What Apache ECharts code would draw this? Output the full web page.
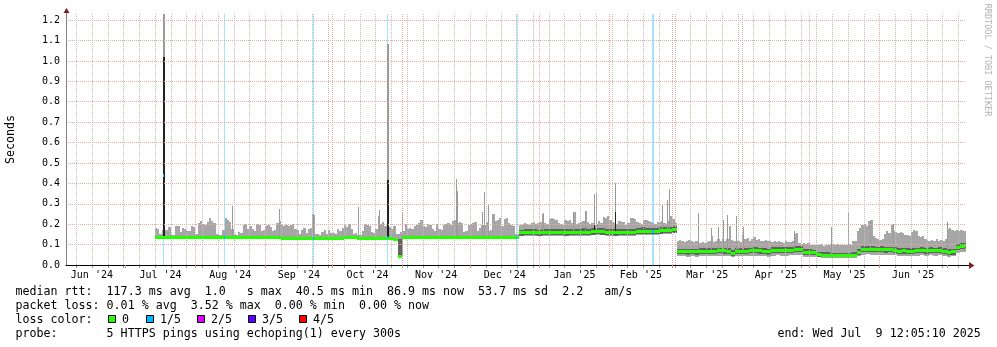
<!DOCTYPE html>
<html>
<head>
<meta charset="utf-8">
<script src="https://cdn.jsdelivr.net/npm/echarts@6/dist/echarts.min.js"></script>
<style>
  html, body { margin: 0; padding: 0; background: #fff; }
  #chart { width: 997px; height: 347px; }
</style>
</head>
<body>
<div id="chart"></div>
<script>
// ---- time frame of the graph (last 400 days) ----
const viewStart = '2024-06-04 12:05:10';
const viewEnd = '2025-07-09 12:05:10';
const firstBucket = '2024-07-14 00:00:00';
const bucketDays = 2;

// ---- sorted pings per 2-day bucket, in ms: min, 2nd, median, 4th ----
const pingMin = [
  134,134,133,134,134,133,134,134,133,134,
  134,133,134,134,133,134,134,133,134,133,
  133,133,132,133,133,132,131,131,129,129,
  129,128,128,128,129,128,128,129,128,129,
  129,129,130,131,133,126,125,128,129,129,
  129,129,125,124,40,130,131,131,131,131,
  131,130,131,131,132,131,131,130,131,131,
  131,131,132,132,133,133,133,133,133,133,133,
  140,141,141,142,140,141,143,142,141,143,
  140,141,143,143,144,143,145,146,145,144,
  141,140,141,141,142,141,148,149,147,149,
  148,150,151,153,155,
  42,42,41,42,41,
  43,43,42,44,45,44,
  42,38,42,44,43,
  45,46,44,42,41,
  46,47,46,46,47,
  50,49,41,40,39,
  37,36,36,35,35,35,35,35,36,
  42,50,52,51,
  50,51,49,50,48,
  45,46,44,45,
  46,48,45,47,46,48,45,
  41,42,58,62,64
];
const pingLow = [
  135,135,134,135,135,134,135,135,134,135,
  135,134,135,135,134,135,135,134,135,134,
  134,134,133,134,134,133,132,132,130,130,
  130,129,129,129,130,129,129,130,129,130,
  130,130,131,132,134,127,126,129,130,130,
  130,130,126,125,42,131,132,132,132,132,
  132,131,132,132,133,132,132,131,132,132,
  132,132,133,133,134,134,134,134,134,134,134,
  144,145,145,146,144,145,147,146,145,147,
  144,145,147,147,148,147,149,150,149,148,
  145,144,145,145,146,145,152,153,151,153,
  152,154,155,157,159,
  52,52,51,52,51,
  53,54,53,55,57,56,
  53,45,53,55,54,
  57,58,56,53,51,
  58,59,59,58,60,
  65,64,50,49,47,
  39,38,38,37,37,37,37,37,38,
  49,63,65,64,
  62,63,61,62,59,
  55,56,54,55,
  57,59,56,58,57,59,55,
  49,51,75,79,82
];
const pingMed = [
  137,137,136,137,137,136,137,137,136,137,
  137,136,137,137,136,137,137,136,137,136,
  136,136,135,136,136,135,134,134,132,132,
  132,131,131,131,132,131,131,132,131,132,
  132,132,133,134,136,129,128,131,132,132,
  132,132,128,127,44,133,134,134,134,134,
  134,133,134,134,135,134,134,133,134,134,
  134,134,135,135,136,136,136,136,136,136,136,
  157,158,158,159,157,158,160,159,158,160,
  157,158,160,160,161,160,162,163,162,161,
  158,157,158,158,159,158,165,166,164,166,
  165,167,168,170,172,
  65,65,64,65,64,
  66,67,66,68,70,69,
  66,58,66,68,67,
  70,71,69,66,64,
  71,72,72,71,73,
  78,77,63,62,60,
  50,48,47,46,46,45,45,45,47,
  62,76,78,77,
  75,76,74,75,72,
  68,69,67,68,
  70,72,69,71,70,72,68,
  62,64,88,92,95
];
const pingHigh = [
  141,141,140,141,141,140,141,141,140,141,
  141,140,141,141,140,141,141,140,141,140,
  140,140,139,140,140,139,138,138,136,136,
  136,135,135,135,136,135,135,136,135,136,
  136,136,137,138,140,133,132,135,136,136,
  136,136,132,131,128,137,138,138,138,138,
  138,137,138,138,139,138,138,137,138,138,
  138,138,139,139,140,140,140,140,140,140,140,
  172,175,176,174,173,176,178,176,174,177,
  174,175,178,177,179,176,180,181,179,178,
  175,174,176,175,177,175,182,184,181,183,
  182,185,186,188,190,
  80,80,79,80,79,
  81,82,81,83,85,84,
  81,73,81,83,82,
  85,86,84,81,79,
  86,87,87,86,88,
  93,92,78,77,75,
  65,63,62,61,61,60,60,60,62,
  77,91,93,92,
  90,91,89,90,87,
  83,84,82,83,
  85,87,84,86,85,87,83,
  77,79,103,107,110
];

// ---- highest ping of every day from 2024-07-14, in ms ----
const dailyMax = [
  180,175,150,170,170,172,185,145,145,190,
  190,160,182,178,168,165,190,188,150,205,
  215,200,195,210,230,215,205,150,145,148,
  170,230,222,210,175,150,148,160,155,195,
  200,175,190,175,165,200,198,165,172,190,
  195,185,168,172,205,215,200,190,195,190,
  195,200,175,170,150,172,180,155,178,180,
  245,150,150,148,160,172,150,170,155,155,
  150,175,165,180,195,185,200,
  175,150,155,148,148,165,200,195,190,160,
  155,175,240,200,210,190,200,185,175,190,
  150,150,160,165,200,175,180,178,190,195,
  205,220,190,185,200,195,175,165,200,178,
  172,198,200,205,195,215,220,205,210,208,
  162,165,198,200,205,210,165,180,195,195,
  210,165,170,250,215,220,228,192,225,228,
  208,195,192,150,150,
  195,200,205,200,198,205,210,200,205,210,
  250,205,200,225,230,225,220,205,200,195,
  220,215,220,205,258,200,205,212,215,265,
  210,200,205,195,200,215,205,235,230,238,
  220,210,205,200,215,210,212,195,205,228,
  230,225,210,205,200,220,222,215,210,205,
  200,210,212,215,205,200,215,240,225,205,
  118,122,120,115,118,124,116,112,120,118,
  110,112,108,114,118,140,115,120,125,118,
  132,118,125,190,122,118,116,120,115,150,
  125,130,120,128,135,122,126,120,118,122,
  116,120,114,118,112,116,115,110,118,114,
  112,116,150,155,110,105,108,104,110,100,
  98,100,96,98,102,95,99,97,100,105,
  98,102,96,100,97,99,104,100,118,120,
  165,180,195,200,190,215,220,140,130,125,
  122,128,150,168,155,198,165,160,158,162,
  155,145,148,142,160,170,165,140,138,142,
  125,120,118,122,120,125,118,122,120,125,
  178,182,172,168,170,165,172,168,165
];

// ---- single outlier pings (ms); spikeCore is the dark inner part, 0 = none ----
const spikeAt = [
  '2024-07-17 10:00','2024-08-17 12:00','2024-09-07 07:00','2024-09-22 12:00',
  '2024-10-12 12:00','2024-10-21 12:00','2024-10-25 05:00','2024-10-31 21:00',
  '2024-11-24 18:00','2024-11-25 06:00','2024-12-06 12:00','2024-12-07 12:00',
  '2024-12-08 21:00','2025-01-02 16:00','2025-01-15 22:00','2025-01-21 00:00',
  '2025-01-25 02:00','2025-01-26 05:00','2025-02-03 15:00','2025-02-24 12:00',
  '2025-02-26 19:00','2025-02-27 16:00','2025-03-12 05:00','2025-03-18 03:00',
  '2025-03-21 12:00','2025-03-23 17:00','2025-03-25 12:00','2025-03-29 12:00',
  '2025-04-01 14:00','2025-04-24 02:00','2025-05-10 10:00','2025-05-17 22:00',
  '2025-05-27 19:00','2025-06-07 00:00','2025-07-01 00:00'
];
const spikeCore = [1020,0,0,0,0,0,416,0,0,0,0,0,0,0,0,0,200,0,260,0,0,0,0,0,0,0,0,0,0,0,0,0,0,0,0];
const spikeTop = [1230,290,272,250,285,270,1085,260,420,365,260,360,300,253,256,262,350,360,400,295,
  318,370,256,180,186,220,245,240,186,165,188,256,215,200,212];

// ---- packet loss events ----
const lossAt = ['2024-07-17 12:00','2024-08-13 18:00','2024-09-22 08:00','2024-10-25 08:00','2024-12-21 10:00','2025-02-20 00:00'];
const lossHours = [18, 8, 8, 8, 8, 18];
const lossMedian = [437, 137, 132, 134, 136, 165];
const lossLevel = [1, 1, 1, 1, 1, 1];

// ---- axis labels ----
const monthStarts = ['2024-06-01','2024-07-01','2024-08-01','2024-09-01','2024-10-01','2024-11-01','2024-12-01',
  '2025-01-01','2025-02-01','2025-03-01','2025-04-01','2025-05-01','2025-06-01','2025-07-01'];
const monthLabels = ["Jun '24","Jul '24","Aug '24","Sep '24","Oct '24","Nov '24","Dec '24",
  "Jan '25","Feb '25","Mar '25","Apr '25","May '25","Jun '25"];
const firstWeekLine = '2024-06-09';

const lossColors = ['#26ff00', '#00b8ff', '#dd00ff', '#5e00ff', '#ff0000'];
const lossNames = ['0', '1/5', '2/5', '3/5', '4/5'];

const legendRows = [
  'median rtt:  117.3 ms avg  1.0   s max  40.5 ms min  86.9 ms now  53.7 ms sd  2.2   am/s',
  'packet loss: 0.01 % avg  3.52 % max  0.00 % min  0.00 % now',
  'loss color:',
  'probe:       5 HTTPS pings using echoping(1) every 300s'
];
const endStamp = 'end: Wed Jul  9 12:05:10 2025';
const yTitle = 'Seconds';
const watermark = 'RRDTOOL / TOBI OETIKER';

// ---------------------------------------------------------------
const MONO = '"DejaVu Sans Mono", "Liberation Mono", monospace';
const DAY = 86400000;
const MAJOR_GRID = '#eaa8a8';
const MINOR_GRID = '#bdbdbd';

function ts(s) {
  const parts = s.split(' ');
  const d = parts[0].split('-').map(Number);
  const t = (parts[1] || '00:00:00').split(':').map(Number);
  return Date.UTC(d[0], d[1] - 1, d[2], t[0] || 0, t[1] || 0, t[2] || 0);
}
const tMin = ts(viewStart), tMax = ts(viewEnd);
const tFirst = ts(firstBucket);
const bucketTime = i => tFirst + i * bucketDays * DAY;
const bucketOf = t => Math.floor((t - tFirst) / (bucketDays * DAY));

const monthAll = monthStarts.map(ts);
const monthTicks = monthAll.filter(t => t > tMin && t < tMax);
const labelValues = monthLabels.map((_, k) => (monthAll[k] + monthAll[k + 1]) / 2);
const weekTicks = [];
for (let t = ts(firstWeekLine); t <= tMax; t += 7 * DAY) weekTicks.push(t);

function clipped(params, x0, x1, y0, y1) {
  const shape = { x: Math.min(x0, x1), y: Math.min(y0, y1), width: Math.abs(x1 - x0), height: Math.abs(y1 - y0) };
  return echarts.graphic.clipRectByRect(shape, params.coordSys);
}

// rectangle item [tStart, tEnd, low, high] drawn through the axes
function rectSeries(data, color, z) {
  return {
    type: 'custom', z, silent: true, data,
    encode: { x: [0, 1], y: [2, 3] },
    renderItem(params, api) {
      const a = api.coord([api.value(0), api.value(3)]);
      const b = api.coord([api.value(1), api.value(2)]);
      const shape = clipped(params, Math.round(a[0]), Math.round(b[0]), Math.round(a[1]), Math.round(b[1]));
      return shape ? { type: 'rect', shape, style: { fill: color } } : null;
    }
  };
}

// short horizontal mark of fixed thickness at the median
function medianRect(params, api, color) {
  const a = api.coord([api.value(0), api.value(2)]);
  const b = api.coord([api.value(1), api.value(2)]);
  let x0 = Math.round(a[0]), x1 = Math.round(b[0]);
  if (x1 - x0 < 1) x1 = x0 + 1;
  const y = Math.round(a[1] - 1.5);
  const shape = clipped(params, x0, x1, y, y + 3);
  return shape ? { type: 'rect', shape, style: { fill: color } } : null;
}

// light smoke: from the bucket minimum up to each day's highest ping
const lightSmoke = dailyMax.map((m, j) => {
  const i = Math.floor(j / bucketDays);
  return [tFirst + j * DAY, tFirst + (j + 1) * DAY, pingMin[i] / 1000, m / 1000];
});
// dark smoke: between the 2nd and 4th ping
const darkSmoke = pingMed.map((_, i) => [bucketTime(i), bucketTime(i + 1), pingLow[i] / 1000, pingHigh[i] / 1000]);

const series = [
  { // weekly minor grid with small ticks under the axis
    type: 'custom', z: 2.9, silent: true,
    data: weekTicks.map(t => [t, 0]),
    encode: { x: 0, y: 1 },
    renderItem(params, api) {
      const cs = params.coordSys;
      const x = Math.round(api.coord([api.value(0), 0])[0]) + 0.5;
      return { type: 'group', children: [
        { type: 'line', shape: { x1: x, y1: cs.y, x2: x, y2: cs.y + cs.height },
          style: { stroke: MINOR_GRID, lineWidth: 1, lineDash: [1, 1] } },
        { type: 'line', shape: { x1: x, y1: cs.y + cs.height + 1, x2: x, y2: cs.y + cs.height + 3 },
          style: { stroke: '#999999', lineWidth: 1 } }
      ] };
    }
  },
  { // loss background
    type: 'custom', z: 1, silent: true,
    data: lossAt.map((s, k) => [ts(s), ts(s) + lossHours[k] * 3600000, lossLevel[k]]),
    encode: { x: [0, 1] },
    renderItem(params, api) {
      const a = api.coord([api.value(0), 0]);
      const b = api.coord([api.value(1), 0]);
      let x0 = Math.round(a[0]), x1 = Math.round(b[0]);
      if (x1 - x0 < 1) x1 = x0 + 1;
      const cs = params.coordSys;
      const c = echarts.color.modifyAlpha(lossColors[api.value(2)], 0.37);
      return { type: 'rect', shape: { x: x0, y: cs.y, width: x1 - x0, height: cs.height }, style: { fill: c } };
    }
  },
  rectSeries(lightSmoke, '#a6a6a6', 2),
  rectSeries(darkSmoke, '#626262', 2),
  { // outlier pings
    type: 'custom', z: 2, silent: true,
    data: spikeAt.map((s, k) => {
      const t = ts(s);
      const i = bucketOf(t);
      return [t, pingMed[i] / 1000, spikeCore[k] / 1000, spikeTop[k] / 1000];
    }),
    encode: { x: 0, y: [1, 3] },
    renderItem(params, api) {
      const base = api.coord([api.value(0), api.value(1)]);
      const top = api.coord([api.value(0), api.value(3)]);
      const w = api.value(3) > 1 ? 2 : 1;
      const x0 = Math.round(base[0]);
      const children = [];
      const light = clipped(params, x0, x0 + w, Math.round(top[1]), Math.round(base[1]));
      if (light) children.push({ type: 'rect', shape: light, style: { fill: '#9a9a9a' } });
      if (api.value(2) > 0) {
        const core = api.coord([api.value(0), api.value(2)]);
        const dark = clipped(params, x0, x0 + w, Math.round(core[1]), Math.round(base[1]));
        if (dark) children.push({ type: 'rect', shape: dark, style: { fill: '#222222' } });
      }
      return { type: 'group', children };
    }
  },
  { // median, loss-free
    type: 'custom', z: 4, silent: true,
    data: pingMed.map((m, i) => [bucketTime(i), bucketTime(i + 1), m / 1000]),
    encode: { x: [0, 1], y: 2 },
    renderItem: (params, api) => medianRect(params, api, lossColors[0])
  },
  { // median while packets were lost
    type: 'custom', z: 5, silent: true,
    data: lossAt.map((s, k) => [ts(s), ts(s) + lossHours[k] * 3600000, lossMedian[k] / 1000, lossLevel[k]]),
    encode: { x: [0, 1], y: 2 },
    renderItem: (params, api) => medianRect(params, api, lossColors[api.value(3)])
  }
];

// legend, titles and axis arrows
const graphic = [];
legendRows.forEach((row, k) => {
  graphic.push({ type: 'text', x: 15.5, y: 291.5 + 14 * k, z: 100,
    style: { text: row, font: '11.65px ' + MONO, fill: '#000', verticalAlign: 'middle' } });
});
graphic.push({ type: 'text', x: 777.5, y: 333.5, z: 100,
  style: { text: endStamp, font: '11.65px ' + MONO, fill: '#000', verticalAlign: 'middle' } });
const boxX = [108, 146, 197, 248, 299];
lossNames.forEach((name, k) => {
  graphic.push({ type: 'rect', z: 100, shape: { x: boxX[k] + 0.5, y: 315.5, width: 7, height: 7 },
    style: { fill: lossColors[k], stroke: '#000', lineWidth: 1 } });
  graphic.push({ type: 'text', x: boxX[k] + 14, y: 319.5, z: 100,
    style: { text: name, font: '11.65px ' + MONO, fill: '#000', verticalAlign: 'middle' } });
});
graphic.push({ type: 'text', x: 10.5, y: 139.5, rotation: Math.PI / 2, z: 100,
  style: { text: yTitle, font: '11.65px ' + MONO, fill: '#000', align: 'center', verticalAlign: 'middle' } });
graphic.push({ type: 'text', x: 987.5, y: 60, rotation: -Math.PI / 2, z: 100,
  style: { text: watermark, font: '8.5px ' + MONO, fill: '#b4b4b4', align: 'center', verticalAlign: 'middle' } });
// axis ends with arrows
graphic.push({ type: 'line', z: 100, shape: { x1: 966, y1: 265.5, x2: 969, y2: 265.5 }, style: { stroke: '#000', lineWidth: 1 } });
graphic.push({ type: 'polygon', z: 100, shape: { points: [[969, 262], [974.5, 265.5], [969, 269]] }, style: { fill: '#7f1f1f' } });
graphic.push({ type: 'line', z: 100, shape: { x1: 66.5, y1: 14, x2: 66.5, y2: 12 }, style: { stroke: '#808080', lineWidth: 1 } });
graphic.push({ type: 'polygon', z: 100, shape: { points: [[63.5, 13], [66.5, 8], [69.5, 13]] }, style: { fill: '#7f1f1f' } });

function nearestLabel(v) {
  let best = 0;
  labelValues.forEach((lv, k) => { if (Math.abs(lv - v) < Math.abs(labelValues[best] - v)) best = k; });
  return monthLabels[best];
}

const option = {
  animation: false,
  backgroundColor: '#ffffff',
  textStyle: { fontFamily: MONO },
  grid: { left: 66, right: 31, top: 14, bottom: 82, containLabel: false, outerBoundsMode: 'none' },
  xAxis: {
    type: 'value', min: tMin, max: tMax, position: 'bottom', z: 3, scale: true,
    axisLine: { show: true, onZero: false, lineStyle: { color: '#000', width: 1 } },
    axisTick: { show: true, customValues: monthTicks, length: 3, lineStyle: { color: '#e08888' } },
    axisLabel: {
      show: true, customValues: labelValues, margin: 5, color: '#000', fontSize: 10, fontFamily: MONO,
      formatter: v => nearestLabel(v)
    },
    splitLine: { show: true, showMinLine: false, showMaxLine: false,
      lineStyle: { color: MAJOR_GRID, type: [1, 1], width: 1 } }
  },
  yAxis: {
    type: 'value', min: 0, max: 1.23, interval: 0.1, z: 3,
    axisLine: { show: true, lineStyle: { color: '#808080', width: 1 } },
    axisTick: { show: false },
    axisLabel: { margin: 6, color: '#000', fontSize: 10, fontFamily: MONO, showMaxLabel: false,
      formatter: v => v.toFixed(1) },
    splitLine: { show: true, showMaxLine: false, showMinLine: false,
      lineStyle: { color: MAJOR_GRID, type: [1, 1], width: 1 } }
  },
  series,
  graphic
};

const chart = echarts.init(document.getElementById('chart'), null, { renderer: 'canvas' });
chart.setOption(option);
</script>
</body>
</html>
